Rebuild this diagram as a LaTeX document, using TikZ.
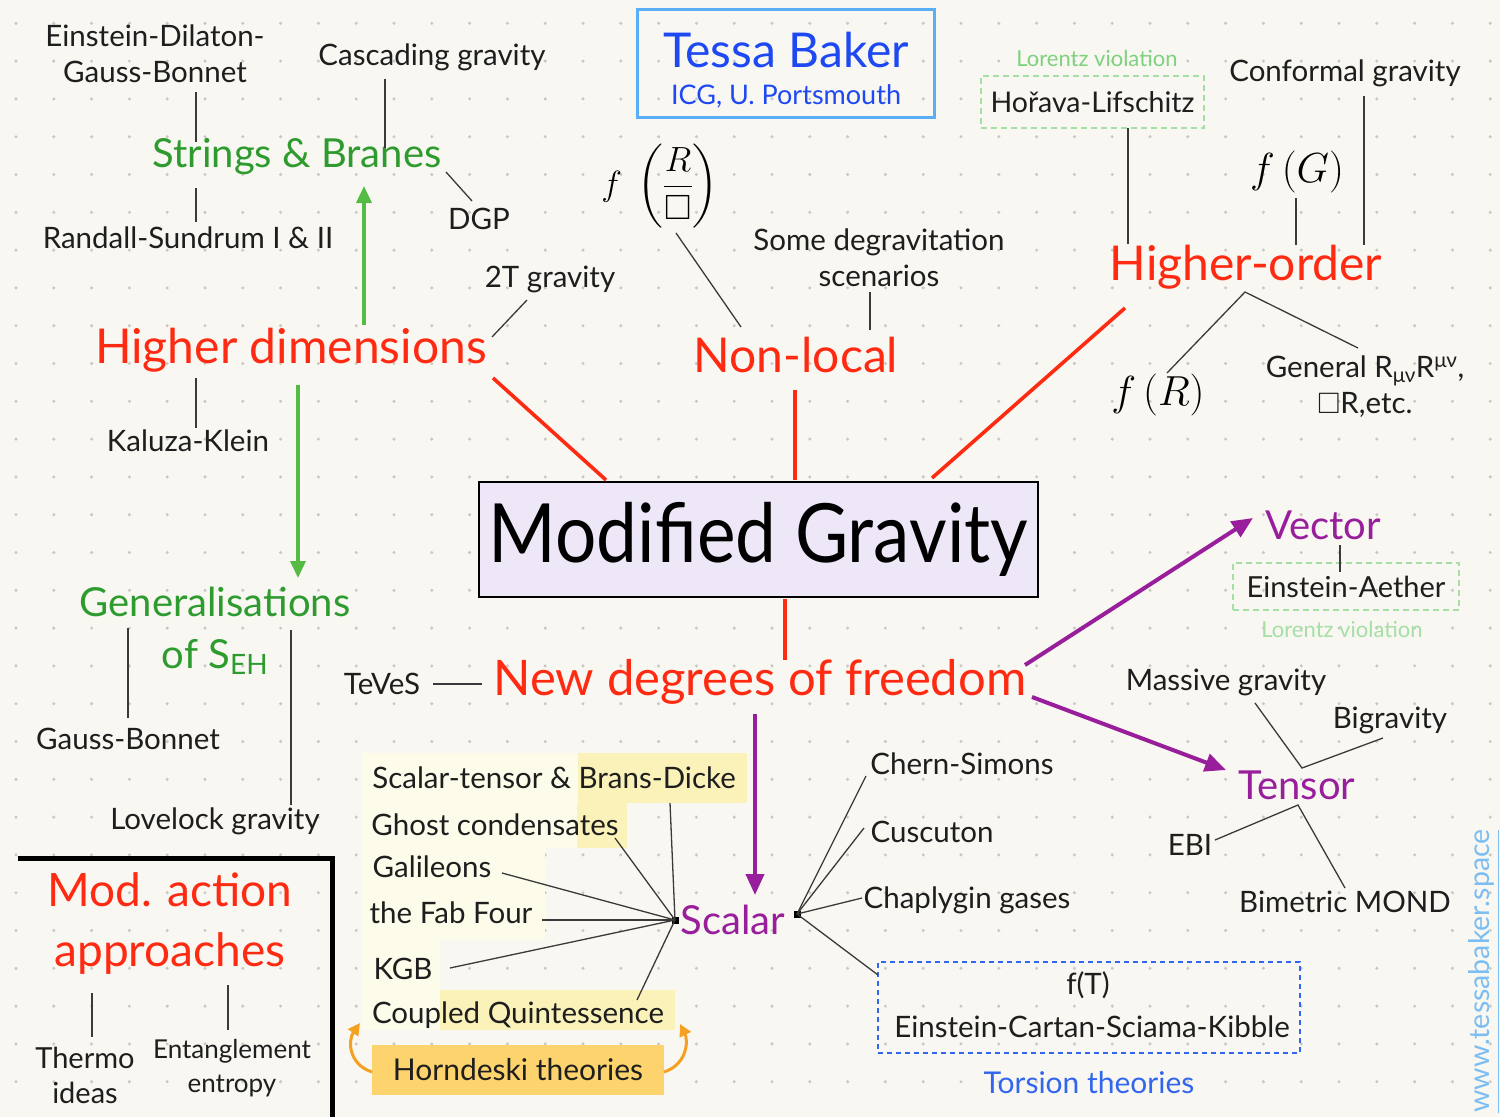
\RequirePackage{fix-cm}
\documentclass[tikz,border=0pt]{standalone}
\usepackage{amsmath,amssymb}
\usepackage{graphicx}
\usepackage{fontspec}
\setmainfont{Lato}
\usetikzlibrary{arrows.meta,calc}
\definecolor{bgc}{HTML}{F8F7F2}
\definecolor{dotc}{HTML}{C9C8C3}
\definecolor{txtc}{HTML}{1E1E1E}
\definecolor{linec}{HTML}{3A3A3A}
\definecolor{redc}{HTML}{FF2A12}
\definecolor{grntxt}{HTML}{2E9B2E}
\definecolor{grnarr}{HTML}{55BB44}
\definecolor{purc}{HTML}{981E9C}
\definecolor{bluetxt}{HTML}{1E48F2}
\definecolor{tbblue}{HTML}{5AAEF6}
\definecolor{ltgreen}{HTML}{7ED27E}
\definecolor{ltgreenb}{HTML}{A6DFA6}
\definecolor{torblue}{HTML}{3366EE}
\definecolor{mgfill}{HTML}{EDE7F8}
\definecolor{hornfill}{HTML}{FCD36C}
\definecolor{orangec}{HTML}{F5A020}
\definecolor{paleyel}{HTML}{FDFBEA}
\definecolor{yel}{HTML}{FAF2B8}
\definecolor{wwwc}{HTML}{7CBDF2}
\tikzset{
  lbl/.style={font=\fontsize{29.5}{36}\selectfont, text=txtc, inner sep=2pt, align=center},
  smlbl/.style={font=\fontsize{26}{34}\selectfont, text=txtc, inner sep=2pt, align=center},
  redlbl/.style={font=\fontsize{48}{60}\selectfont, text=redc, inner sep=2pt, align=center},
  grnlbl/.style={font=\fontsize{40}{52}\selectfont, text=grntxt, inner sep=2pt, align=center},
  purlbl/.style={font=\fontsize{40}{46}\selectfont, text=purc, inner sep=2pt},
  lorentz/.style={font=\fontsize{22}{24}\selectfont, inner sep=1pt},
  mathlbl/.style={font=\fontsize{42}{46}\selectfont, inner sep=1pt},
  thinln/.style={draw=linec, line width=1.3pt},
  redln/.style={draw=redc, line width=3.6pt},
  grnarrow/.style={draw=grnarr, line width=3.6pt, -{Triangle[length=17pt,width=15pt]}},
  purarrow/.style={draw=purc, line width=4pt, -{Triangle[length=21pt,width=18pt]}},
  orarrow/.style={draw=orangec, line width=3pt, -{Triangle[length=12pt,width=12pt]}},
  junction/.style={fill=black, minimum size=7pt, inner sep=0pt},
}
\begin{document}
\begin{tikzpicture}[x=1pt,y=-1pt]
\useasboundingbox (0,0) rectangle (1500,1117);
\fill[bgc] (0,0) rectangle (1500,1117);
\foreach \i in {0,...,39}{\foreach \j in {0,...,28}{\fill[dotc] ({16+37.8*\i},{23.3+37.8*\j}) circle (1.7);}}

% highlight patches behind scalar list
\fill[paleyel] (362,753) rectangle (747,803);
\fill[yel] (578,753) rectangle (747,803);
\fill[paleyel] (362,803) rectangle (627,848);
\fill[yel] (577,803) rectangle (627,848);
\fill[paleyel] (362,848) rectangle (545,940);
\fill[paleyel] (362,940) rectangle (440,990);
\fill[paleyel] (362,990) rectangle (675,1030);
\fill[yel] (440,990) rectangle (675,1030);

% boxes
\node[draw=tbblue, line width=3pt, minimum width=297pt, minimum height=108pt, inner sep=0pt] (tbox) at (785.5,63) {};
\node[font=\fontsize{48}{52}\selectfont, text=bluetxt, inner sep=1pt] (tessa) at (786,50) {Tessa Baker};
\node[font=\fontsize{27}{30}\selectfont, text=bluetxt, inner sep=1pt] (icg) at (786,96) {ICG, U. Portsmouth};

\node[draw=black, line width=2.5pt, fill=mgfill, minimum width=559pt, minimum height=115pt, inner sep=0pt,
      font=\fontsize{73}{80}\selectfont, text=black] (mg) at (758.5,539.5) {\scalebox{1}[1.12]{Modified Gravity}};

\node[fill=hornfill, minimum width=292pt, minimum height=50pt, inner sep=0pt,
      font=\fontsize{30}{32}\selectfont, text=txtc] (horn) at (518,1070) {Horndeski theories};

\node[draw=torblue, line width=2pt, dash pattern=on 5pt off 4pt, minimum width=422pt, minimum height=91pt, inner sep=0pt] (tor) at (1089,1007.5) {};
\node[lbl] (ft) at (1088,985) {f(T)};
\node[lbl] (ecsk) at (1092,1027) {Einstein-Cartan-Sciama-Kibble};
\node[font=\fontsize{30}{32}\selectfont, text=torblue, inner sep=2pt] (tortxt) at (1089,1083) {Torsion theories};

\node[draw=ltgreenb, line width=1.6pt, dash pattern=on 6pt off 4pt, minimum width=223pt, minimum height=52pt, inner sep=0pt,
      font=\fontsize{28.5}{30}\selectfont, text=txtc] (hl) at (1092.5,102) {Hořava-Lifschitz};
\node[lorentz, text=ltgreen] (lv1) at (1097,58) {Lorentz violation};

\node[draw=ltgreenb, line width=1.6pt, dash pattern=on 6pt off 4pt, minimum width=226pt, minimum height=47pt, inner sep=0pt,
      font=\fontsize{29}{30}\selectfont, text=txtc] (ea) at (1346,586.5) {Einstein-Aether};
\node[lorentz, text=ltgreenb] (lv2) at (1342,629) {Lorentz violation};

% labels
\node[lbl] (edgb) at (155,54) {Einstein-Dilaton-\\Gauss-Bonnet};
\node[lbl] (casc) at (432,57) {Cascading gravity};
\node[grnlbl] (sb) at (297,157) {Strings \& Branes};
\node[lbl] (rs) at (188,238) {Randall-Sundrum I \& II};
\node[lbl] (dgp) at (479,219) {DGP};
\node[lbl] (tt) at (550,279) {2T gravity};
\node[redlbl] (hd) at (291,350) {Higher dimensions};
\node[lbl] (kk) at (188,441) {Kaluza-Klein};
\node[grnlbl] (gen) at (215,631) {Generalisations\\of S\textsubscript{EH}};
\node[lbl] (gb) at (128,739) {Gauss-Bonnet};
\node[lbl] (lov) at (215,821) {Lovelock gravity};
\node[lbl] (teves) at (382,684) {TeVeS};
\node[redlbl, font=\fontsize{46}{60}\selectfont] (mod) at (170,923) {Mod. action\\approaches};
\node[lbl, font=\fontsize{29}{35}\selectfont] (thermo) at (85,1075) {Thermo\\ideas};
\node[smlbl] (ent) at (232,1068) {Entanglement\\entropy};

\node[font=\fontsize{35}{40}\selectfont, inner sep=0pt, text height=48pt, text depth=36pt] (fr) at (660,189) {$f\;\left(\dfrac{R}{\Box}\right)$};
\node[lbl] (sdeg) at (879,258) {Some degravitation\\scenarios};
\node[redlbl] (nl) at (796,355) {Non-local};

\node[lbl] (conf) at (1345,73) {Conformal gravity};
\node[mathlbl] (fg) at (1297,172) {$f\,(G)$};
\node[redlbl] (ho) at (1246,267) {Higher-order};
\node[mathlbl] (fR) at (1158,395) {$f\,(R)$};
\node[lbl] (gen2) at (1365,387) {General R\textsubscript{μν}R\textsuperscript{μν},\\$\Box$R,etc.};

\node[redlbl, font=\fontsize{49}{60}\selectfont] (ndf) at (760,682) {New degrees of freedom};
\node[purlbl] (vec) at (1323,525) {Vector};
\node[lbl] (mass) at (1226,682) {Massive gravity};
\node[lbl] (big) at (1390,720) {Bigravity};
\node[purlbl] (ten) at (1297,785) {Tensor};
\node[lbl] (ebi) at (1190,845) {EBI};
\node[lbl] (bim) at (1345,902) {Bimetric MOND};

\node[purlbl] (sca) at (733,920) {Scalar};
\node[lbl] (st) at (554,778) {Scalar-tensor \& Brans-Dicke};
\node[lbl] (ghost) at (495,825) {Ghost condensates};
\node[lbl] (gal) at (432,867) {Galileons};
\node[lbl] (fab) at (451,913) {the Fab Four};
\node[lbl] (kgb) at (403,969) {KGB};
\node[lbl] (cq) at (518,1015) {Coupled Quintessence};

\node[lbl] (cs) at (962,764) {Chern-Simons};
\node[lbl] (cus) at (932,832) {Cuscuton};
\node[lbl] (chap) at (967,900) {Chaplygin gases};

\node[junction] (jl) at (675,920) {};
\node[junction] (jr) at (797,914) {};

\node[rotate=90, font=\fontsize{28.5}{30}\selectfont, text=wwwc, inner sep=0pt] (www) at (1484,971) {\underline{www.tessabaker.space}};

% mod action frame
\draw[line width=5pt, black] (18,858) -- (332,858) -- (332,1117);

% thin connectors
\draw[thinln] ($(edgb)+(41,38)$) -- ($(sb)+(-101,-15)$);
\draw[thinln] ($(casc)+(-47,22)$) -- ($(sb)+(88,-9)$);
\draw[thinln] ($(sb)+(-101,31)$) -- ($(rs)+(8,-16)$);
\draw[thinln] ($(sb)+(149,15)$) -- ($(dgp)+(-7,-18)$);
\draw[thinln] ($(tt)+(-23,21)$) -- ($(hd)+(201,-13)$);
\draw[thinln] ($(hd)+(-95,28)$) -- ($(kk)+(8,-13)$);
\draw[thinln] ($(gen)+(-87,-3)$) -- ($(gb)+(0,-21)$);
\draw[thinln] ($(gen)+(76,-1)$) -- ($(lov)+(76,-16)$);
\draw[thinln] ($(teves)+(51,0)$) -- ($(ndf)+(-278,2)$);
\draw[thinln] ($(mod)+(-78,70)$) -- ($(thermo)+(7,-38)$);
\draw[thinln] ($(mod)+(58,62)$) -- ($(ent)+(-4,-38)$);
\draw[thinln] ($(fr)+(16,44)$) -- ($(nl)+(-55,-28)$);
\draw[thinln] ($(sdeg)+(-9,34)$) -- ($(nl)+(74,-25)$);
\draw[thinln] ($(hl)+(35.5,26)$) -- ($(ho)+(-118,-23)$);
\draw[thinln] ($(conf)+(19,23)$) -- ($(ho)+(118,-22)$);
\draw[thinln] ($(fg)+(-1,26)$) -- ($(ho)+(50,-22)$);
\draw[thinln] ($(fR)+(9,-22)$) -- ($(ho)+(-1,25)$) -- ($(gen2)+(-7,-39)$);
\draw[thinln] ($(vec)+(17,20)$) -- ($(ea)+(-6,-14.5)$);
\draw[thinln] ($(mass)+(29,21)$) -- ($(ten)+(5,-17)$) -- ($(big)+(-7,18)$);
\draw[thinln] ($(ebi)+(25,-5)$) -- ($(ten)+(1,20)$) -- ($(bim)+(0,-14)$);
\foreach \n/\dx/\dy in {st/116/25, ghost/120/13, gal/70/6, fab/91/7, kgb/47/-1, cq/119/-15}
  \draw[thinln] (jl.center) -- ($(\n)+(\dx,\dy)$);
\foreach \n/\dx/\dy in {cs/-96/12, cus/-68/-4, chap/-105/-2, tor/-211/-32.5}
  \draw[thinln] (jr.center) -- ($(\n)+(\dx,\dy)$);

% red connectors
\draw[redln] ($(hd)+(202,28)$) -- ($(mg)+(-152.5,-59.5)$);
\draw[redln] ($(nl)+(-1,35)$) -- ($(mg)+(36.5,-59.5)$);
\draw[redln] ($(ho)+(-121,41)$) -- ($(mg)+(173.5,-61.5)$);
\draw[redln] ($(mg)+(26.5,59.5)$) -- ($(ndf)+(25,-22)$);

% green arrows
\draw[grnarrow] ($(hd)+(73,-25)$) -- ($(sb)+(67,29)$);
\draw[grnarrow] ($(hd)+(7,35)$) -- ($(gen)+(83,-53)$);

% purple arrows
\draw[purarrow] ($(ndf)+(265,-17)$) -- ($(vec)+(-70,-7)$);
\draw[purarrow] ($(ndf)+(272,15)$) -- ($(ten)+(-71,-15)$);
\draw[purarrow] ($(ndf)+(-5,32)$) -- ($(sca)+(22,-25)$);

% orange arrows
\draw[orarrow] ($(horn)+(-146,2)$) .. controls ($(horn)+(-170,-6)$) and ($(horn)+(-170,-30)$) .. ($(cq)+(-158,8)$);
\draw[orarrow] ($(horn)+(146,2)$) .. controls ($(horn)+(170,-6)$) and ($(horn)+(170,-30)$) .. ($(cq)+(162,9)$);
\end{tikzpicture}
\end{document}
